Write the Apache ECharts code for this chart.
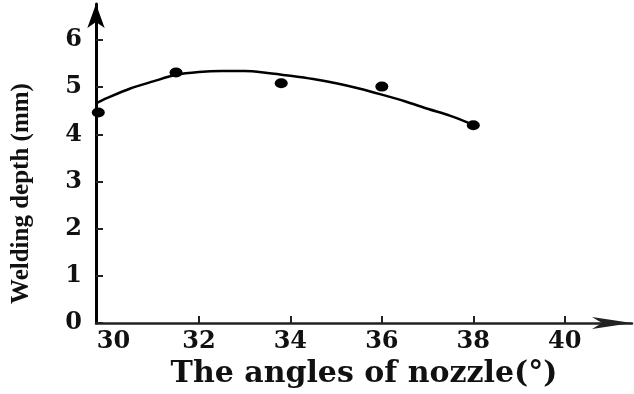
<!DOCTYPE html>
<html>
<head>
<meta charset="utf-8">
<script src="https://cdn.jsdelivr.net/npm/echarts@6/dist/echarts.min.js"></script>
<style>
html,body{margin:0;padding:0;background:#fff;}
#c{width:634px;height:394px;}
</style>
</head>
<body>
<div id="c"></div>
<script>
// measured points (angle of nozzle, welding depth)
const pointX = [29.8, 31.5, 33.8, 36.0, 38.0];
const pointY = [4.46, 5.31, 5.08, 5.01, 4.19];
// fitted curve
const curveX = [29.76, 30, 30.5, 31, 31.5, 32, 32.5, 33, 33.5, 34, 34.5, 35, 35.5, 36, 36.5, 37, 37.5, 37.95];
const curveY = [4.66, 4.77, 4.97, 5.12, 5.26, 5.32, 5.34, 5.34, 5.30, 5.24, 5.17, 5.08, 4.97, 4.84, 4.70, 4.54, 4.39, 4.22];
// tick labels
const xTicks = [30, 32, 34, 36, 38, 40];
const xTickMarks = [32, 34, 36, 38, 40];
const yTicks = [0, 1, 2, 3, 4, 5, 6];

const chart = echarts.init(document.getElementById('c'), null, {renderer: 'canvas'});
const labelFont = {fontFamily: 'DejaVu Serif', fontWeight: 'bold', fontSize: 24, color: '#111'};
chart.setOption({
  animation: false,
  backgroundColor: '#fff',
  grid: {left: 96, right: 2, top: 4, bottom: 67, containLabel: false},
  xAxis: {
    type: 'value', min: 29.75, max: 41.47,
    name: 'The angles of nozzle(°)', nameLocation: 'middle', nameGap: 35,
    nameTextStyle: {fontFamily: 'DejaVu Serif', fontWeight: 'bold', fontSize: 30, color: '#111', padding: [0, 0, 0, 0]},
    axisLine: {show: true, symbol: ['none', 'arrow'], symbolSize: [9, 40], lineStyle: {color: '#222', width: 2.5}},
    axisTick: {show: true, inside: true, length: 7, customValues: xTickMarks, lineStyle: {color: '#222', width: 2}},
    axisLabel: Object.assign({
      customValues: xTicks, margin: 7,
      formatter: v => v === 30 ? '{a|30}' : String(v),
      rich: {a: Object.assign({padding: [0, 0, 0, 12]}, labelFont)}
    }, labelFont),
    splitLine: {show: false}
  },
  yAxis: {
    type: 'value', min: 0, max: 6.76,
    name: 'Welding depth (mm)', nameLocation: 'middle', nameGap: 62, nameRotate: 90,
    nameTextStyle: {fontFamily: 'Liberation Serif', fontWeight: 'bold', fontSize: 25, color: '#111', padding: [0, 60, 0, 0]},
    axisLine: {show: true, symbol: ['none', 'arrow'], symbolSize: [13, 24], lineStyle: {color: '#000', width: 3}},
    axisTick: {show: true, inside: true, length: 7, customValues: yTicks, lineStyle: {color: '#222', width: 2}},
    axisLabel: Object.assign({customValues: yTicks, margin: 14}, labelFont),
    splitLine: {show: false}
  },
  series: [
    {
      type: 'line', smooth: 0.3, symbol: 'none',
      data: curveX.map((x, i) => [x, curveY[i]]),
      lineStyle: {color: '#000', width: 2.5}
    },
    {
      type: 'scatter', symbol: 'circle', symbolSize: [13, 10],
      data: pointX.map((x, i) => [x, pointY[i]]),
      itemStyle: {color: '#000', opacity: 1}
    }
  ]
});
</script>
</body>
</html>
